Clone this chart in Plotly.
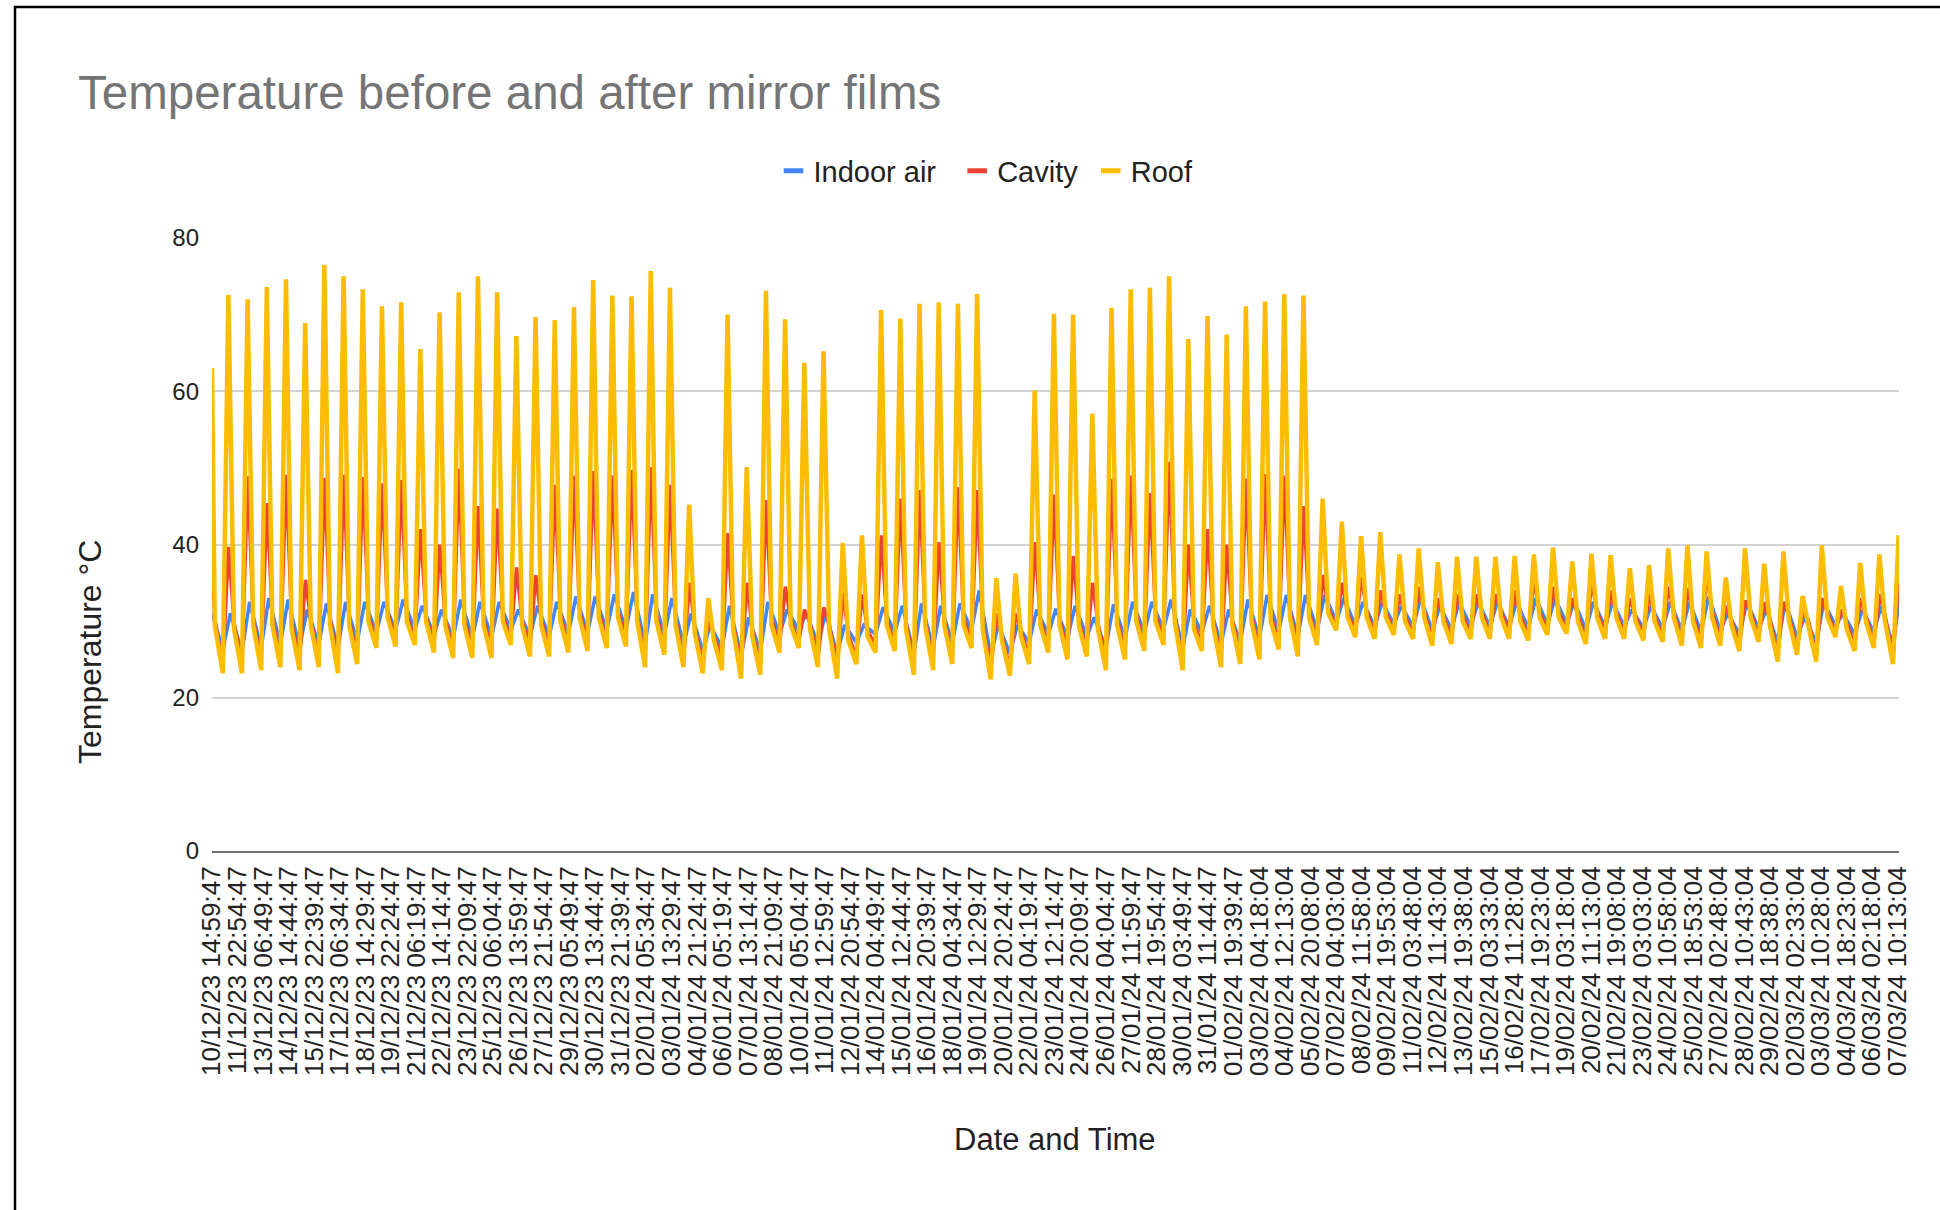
import pandas as pd
import plotly.graph_objects as go

# ---------------------------------------------------------------------------
# Data
# ---------------------------------------------------------------------------
series_names = ["Indoor air", "Cavity", "Roof"]
series_colors = ["#4285F4", "#EA4335", "#FBBC04"]

# logger timestamps shown on the category axis
tick_labels = [
    "10/12/23 14:59:47", "11/12/23 22:54:47", "13/12/23 06:49:47", "14/12/23 14:44:47",
    "15/12/23 22:39:47", "17/12/23 06:34:47", "18/12/23 14:29:47", "19/12/23 22:24:47",
    "21/12/23 06:19:47", "22/12/23 14:14:47", "23/12/23 22:09:47", "25/12/23 06:04:47",
    "26/12/23 13:59:47", "27/12/23 21:54:47", "29/12/23 05:49:47", "30/12/23 13:44:47",
    "31/12/23 21:39:47", "02/01/24 05:34:47", "03/01/24 13:29:47", "04/01/24 21:24:47",
    "06/01/24 05:19:47", "07/01/24 13:14:47", "08/01/24 21:09:47", "10/01/24 05:04:47",
    "11/01/24 12:59:47", "12/01/24 20:54:47", "14/01/24 04:49:47", "15/01/24 12:44:47",
    "16/01/24 20:39:47", "18/01/24 04:34:47", "19/01/24 12:29:47", "20/01/24 20:24:47",
    "22/01/24 04:19:47", "23/01/24 12:14:47", "24/01/24 20:09:47", "26/01/24 04:04:47",
    "27/01/24 11:59:47", "28/01/24 19:54:47", "30/01/24 03:49:47", "31/01/24 11:44:47",
    "01/02/24 19:39:47", "03/02/24 04:18:04", "04/02/24 12:13:04", "05/02/24 20:08:04",
    "07/02/24 04:03:04", "08/02/24 11:58:04", "09/02/24 19:53:04", "11/02/24 03:48:04",
    "12/02/24 11:43:04", "13/02/24 19:38:04", "15/02/24 03:33:04", "16/02/24 11:28:04",
    "17/02/24 19:23:04", "19/02/24 03:18:04", "20/02/24 11:13:04", "21/02/24 19:08:04",
    "23/02/24 03:03:04", "24/02/24 10:58:04", "25/02/24 18:53:04", "27/02/24 02:48:04",
    "28/02/24 10:43:04", "29/02/24 18:38:04", "02/03/24 02:33:04", "03/03/24 10:28:04",
    "04/03/24 18:23:04", "06/03/24 02:18:04", "07/03/24 10:13:04",
]

first_stamp = "10/12/23 14:59:47"
last_stamp = "07/03/24 12:00:00"
first_indoor, first_cavity, first_roof = 31.0, 38.0, 63.0

# daily readings, one per day from 11/12/23 to 07/03/24
roof_peak = [
    72.6, 72.0, 73.6, 74.6, 68.9, 76.5, 75.0, 73.3, 71.1, 71.6,
    65.5, 70.3, 72.9, 75.0, 72.9, 67.2, 69.7, 69.3, 71.0, 74.5,
    72.5, 72.4, 75.7, 73.5, 45.2, 33.0, 70.0, 50.1, 73.1, 69.4,
    63.7, 65.2, 40.2, 41.2, 70.6, 69.5, 71.4, 71.6, 71.4, 72.7,
    35.6, 36.2, 60.1, 70.1, 70.0, 57.1, 70.9, 73.3, 73.5, 75.0,
    66.8, 69.8, 67.4, 71.1, 71.7, 72.7, 72.5, 46.0, 43.0, 41.1,
    41.6, 38.7, 39.5, 37.7, 38.4, 38.4, 38.4, 38.5, 38.7, 39.6,
    37.8, 38.8, 38.6, 36.9, 37.3, 39.5, 39.9, 39.1, 35.7, 39.5,
    37.5, 39.1, 33.3, 39.9, 34.6, 37.6, 38.7, 41.2,
]
cavity_peak = [
    39.7, 48.9, 45.4, 49.1, 35.4, 48.7, 49.1, 48.8, 48.0, 48.4,
    42.0, 40.0, 49.9, 45.0, 44.7, 37.0, 36.0, 47.8, 49.0, 49.6,
    49.0, 49.7, 50.1, 47.8, 35.0, 30.5, 41.5, 35.0, 45.8, 34.5,
    31.5, 31.8, 33.7, 33.5, 41.2, 46.0, 47.1, 40.3, 47.5, 47.1,
    31.0, 31.0, 40.3, 46.5, 38.5, 35.0, 48.6, 49.0, 46.7, 50.8,
    40.0, 42.0, 40.0, 48.6, 49.2, 49.0, 45.0, 36.0, 35.0, 35.8,
    34.0, 33.5, 34.5, 33.0, 33.5, 33.5, 33.5, 34.0, 35.4, 34.5,
    33.0, 35.0, 34.0, 33.0, 33.5, 34.5, 34.3, 36.2, 32.0, 32.7,
    32.5, 32.5, 31.0, 33.0, 31.5, 33.0, 33.5, 35.4,
]
indoor_peak = [
    31.0, 32.5, 33.0, 32.8, 31.5, 32.3, 32.5, 32.5, 32.5, 32.8,
    32.0, 31.5, 32.8, 32.5, 32.5, 31.5, 32.0, 32.5, 33.2, 33.2,
    33.5, 33.8, 33.5, 33.0, 31.0, 29.5, 32.0, 30.5, 32.5, 31.5,
    31.0, 31.0, 29.5, 29.5, 31.8, 32.0, 32.3, 32.0, 32.3, 34.0,
    29.5, 29.5, 31.5, 31.6, 32.0, 30.5, 32.2, 32.5, 32.5, 32.8,
    31.5, 32.0, 31.5, 32.8, 33.4, 33.4, 33.4, 33.4, 33.0, 32.5,
    32.5, 32.0, 33.0, 32.0, 32.5, 32.5, 32.5, 32.5, 33.0, 33.0,
    32.5, 32.5, 32.5, 31.5, 32.0, 32.5, 32.5, 33.2, 31.0, 32.5,
    31.5, 32.5, 30.5, 32.5, 31.0, 31.5, 32.0, 34.0,
]
roof_dawn = [
    23.2, 23.2, 23.6, 24.0, 23.6, 24.0, 23.2, 24.4, 26.5, 26.7,
    26.9, 25.9, 25.2, 25.2, 25.2, 26.9, 25.4, 25.4, 25.9, 26.1,
    26.5, 26.7, 24.0, 25.6, 24.0, 23.2, 23.6, 22.5, 23.0, 25.9,
    26.5, 24.0, 22.5, 24.4, 25.9, 26.1, 23.0, 23.6, 24.4, 26.5,
    22.4, 22.9, 24.4, 25.9, 25.0, 25.4, 23.6, 25.0, 26.1, 26.9,
    23.6, 26.1, 24.0, 24.4, 25.0, 26.3, 25.4, 26.9, 28.8, 27.9,
    27.7, 28.2, 27.7, 26.8, 27.0, 27.7, 27.7, 27.7, 27.5, 28.2,
    28.4, 27.0, 27.7, 27.7, 27.5, 27.3, 26.8, 26.5, 26.8, 26.1,
    27.3, 24.7, 25.6, 24.7, 27.9, 26.1, 26.5, 24.4,
]
cavity_dawn = [
    24.3, 24.5, 24.8, 25.2, 24.8, 25.0, 24.4, 25.5, 27.3, 27.5,
    27.6, 26.8, 26.2, 26.2, 26.2, 27.6, 26.4, 26.5, 26.9, 27.0,
    27.3, 27.5, 25.1, 26.6, 25.0, 24.4, 24.8, 23.8, 24.2, 26.8,
    27.3, 25.1, 23.8, 25.4, 26.8, 27.0, 24.2, 24.8, 25.4, 27.3,
    23.6, 24.0, 25.4, 26.8, 26.0, 26.4, 24.8, 26.0, 27.0, 27.6,
    24.8, 27.0, 25.1, 25.4, 26.0, 27.1, 26.4, 27.6, 29.3, 28.5,
    28.3, 28.7, 28.3, 27.5, 27.7, 28.3, 28.3, 28.3, 28.1, 28.7,
    28.9, 27.7, 28.3, 28.3, 28.1, 27.9, 27.5, 27.2, 27.5, 26.9,
    27.9, 25.6, 26.4, 25.6, 28.5, 26.9, 27.2, 25.3,
]
indoor_dawn = [
    26.3, 26.0, 26.5, 27.0, 26.6, 27.0, 26.5, 27.3, 28.5, 28.8,
    28.9, 28.2, 27.8, 27.8, 27.9, 28.8, 28.0, 28.0, 28.4, 28.5,
    28.8, 28.9, 27.0, 28.2, 27.0, 26.2, 26.5, 25.5, 26.0, 28.3,
    28.8, 27.0, 25.8, 27.2, 28.3, 28.5, 25.8, 26.5, 27.2, 28.8,
    25.5, 25.8, 27.2, 28.3, 27.8, 28.0, 26.5, 27.8, 28.5, 28.9,
    26.5, 28.5, 27.0, 27.2, 27.8, 28.6, 28.0, 28.9, 30.0, 29.4,
    29.3, 29.6, 29.3, 28.8, 28.9, 29.3, 29.3, 29.3, 29.1, 29.6,
    29.7, 28.9, 29.3, 29.3, 29.1, 29.0, 28.8, 28.6, 28.8, 28.3,
    29.0, 27.2, 27.9, 27.2, 29.4, 28.3, 28.6, 26.8,
]
# evening readings, one per day from 10/12/23 to 06/03/24
roof_dusk = [
    29.5, 29.0, 29.5, 29.5, 29.0, 29.5, 29.5, 29.5, 30.0, 30.5,
    30.0, 30.0, 29.5, 29.5, 29.5, 30.0, 29.5, 29.5, 30.0, 30.5,
    30.5, 30.5, 30.0, 30.0, 29.5, 28.5, 27.5, 29.0, 28.0, 29.5,
    29.5, 29.0, 29.0, 27.5, 28.0, 29.5, 29.0, 29.5, 29.5, 29.5,
    29.0, 27.5, 28.0, 29.5, 29.5, 29.5, 29.0, 29.5, 30.0, 30.0,
    30.0, 29.0, 29.5, 29.5, 30.0, 30.0, 30.5, 30.5, 31.0, 30.5,
    30.5, 30.5, 30.0, 30.5, 30.0, 30.0, 30.5, 30.5, 30.0, 30.5,
    30.5, 30.0, 30.5, 30.5, 30.0, 30.0, 30.5, 30.0, 30.5, 29.5,
    30.5, 29.5, 30.0, 29.5, 30.5, 29.0, 30.0, 30.0,
]
cavity_dusk = [
    30.3, 29.8, 30.4, 30.3, 29.9, 30.2, 30.4, 30.3, 30.8, 31.3,
    30.8, 30.7, 30.3, 30.4, 30.3, 30.8, 30.2, 30.3, 30.8, 31.3,
    31.4, 31.3, 30.9, 30.8, 30.3, 29.2, 28.3, 29.8, 28.8, 30.3,
    30.2, 29.8, 29.8, 28.2, 28.8, 30.3, 29.9, 30.3, 30.2, 30.4,
    29.9, 28.3, 28.8, 30.2, 30.3, 30.2, 29.8, 30.3, 30.8, 30.9,
    30.8, 29.8, 30.3, 30.2, 30.8, 30.9, 31.3, 31.2, 31.7, 31.2,
    31.3, 31.2, 30.7, 31.3, 30.7, 30.8, 31.2, 31.3, 30.8, 31.3,
    31.2, 30.8, 31.3, 31.2, 30.7, 30.8, 31.2, 30.8, 31.3, 30.2,
    31.2, 30.3, 30.7, 30.2, 31.2, 29.8, 30.7, 30.8,
]

# ---------------------------------------------------------------------------
# Time series assembly
# ---------------------------------------------------------------------------
STAMP_FMT = "%d/%m/%y %H:%M:%S"
t_first = pd.to_datetime(first_stamp, format=STAMP_FMT)
t_last = pd.to_datetime(last_stamp, format=STAMP_FMT)
days = pd.date_range("2023-12-11", periods=len(roof_peak), freq="D")

DAWN = pd.Timedelta(hours=4, minutes=30)
DUSK = pd.Timedelta(hours=18, minutes=30)
PEAK_TIME = {
    "Indoor air": pd.Timedelta(hours=14),
    "Cavity": pd.Timedelta(hours=11, minutes=45),
    "Roof": pd.Timedelta(hours=11, minutes=30),
}
LINE_WIDTH = {"Indoor air": 3.5, "Cavity": 3.5, "Roof": 4.5}


def daily_series(first, dawn, peak, dusk, peak_at):
    xs, ys = [t_first], [first]
    if dusk is not None:
        xs.append(t_first.normalize() + DUSK)
        ys.append(dusk[0])
    for i, day in enumerate(days):
        xs.append(day + DAWN)
        ys.append(dawn[i])
        xs.append(day + peak_at)
        ys.append(peak[i])
        if dusk is not None and i + 1 < len(dusk):
            xs.append(day + DUSK)
            ys.append(dusk[i + 1])
    return xs, ys


series = {
    "Indoor air": daily_series(first_indoor, indoor_dawn, indoor_peak, None,
                               PEAK_TIME["Indoor air"]),
    "Cavity": daily_series(first_cavity, cavity_dawn, cavity_peak, cavity_dusk,
                           PEAK_TIME["Cavity"]),
    "Roof": daily_series(first_roof, roof_dawn, roof_peak, roof_dusk,
                         PEAK_TIME["Roof"]),
}

tick_vals = [pd.to_datetime(s, format=STAMP_FMT) for s in tick_labels]

# ---------------------------------------------------------------------------
# Figure
# ---------------------------------------------------------------------------
FONT = "Liberation Sans, Arial, Helvetica, sans-serif"
W, H = 1940, 1210
PL, PR, PT, PB = 212, 1899, 238, 851  # plot area in pixels
pw, ph = PR - PL, PB - PT


def px_x(x):
    return (x - PL) / pw


def px_y(y):
    return (PB - y) / ph


fig = go.Figure()

for name, color in zip(series_names, series_colors):
    xs, ys = series[name]
    fig.add_trace(go.Scatter(
        x=xs, y=ys, mode="lines", name=name, showlegend=False,
        line=dict(color=color, width=LINE_WIDTH[name]), hoverinfo="skip",
    ))

# short dash legend keys (trailing no-break spaces widen the item gaps)
legend_pad = {"Indoor air": "\u00a0\u00a0", "Cavity": "\u00a0", "Roof": ""}
for name, color in zip(series_names, series_colors):
    fig.add_trace(go.Scatter(
        x=[None], y=[None], mode="markers", name=name + legend_pad[name],
        showlegend=True,
        marker=dict(symbol="line-ew", size=14, color=color,
                    line=dict(width=5, color=color)),
    ))

fig.update_layout(
    width=W, height=H,
    margin=dict(l=PL, r=W - PR, t=PT, b=H - PB, pad=0),
    paper_bgcolor="white", plot_bgcolor="white",
    font=dict(family=FONT, color="#222222"),
    title=dict(
        text="Temperature before and after mirror films",
        xref="container", yref="container",
        x=78 / W, xanchor="left", y=1 - 92 / H, yanchor="middle",
        font=dict(family=FONT, size=47.5, color="#757575"),
    ),
    legend=dict(
        orientation="h", x=px_x(986), xanchor="center",
        y=px_y(171), yanchor="middle",
        font=dict(family=FONT, size=29, color="#222222"),
        bgcolor="rgba(0,0,0,0)", itemclick=False,
    ),
    xaxis=dict(
        type="date", range=[t_first, t_last],
        tickmode="array", tickvals=tick_vals, ticktext=tick_labels,
        tickangle=-90, tickfont=dict(family=FONT, size=26, color="#222222"),
        ticks="", showgrid=False, zeroline=False,
        showline=True, linecolor="#6f6f6f", linewidth=2,
        ticklabelstandoff=3,
    ),
    yaxis=dict(
        range=[0, 80], tickmode="array", tickvals=[0, 20, 40, 60, 80],
        tickfont=dict(family=FONT, size=24, color="#222222"),
        ticks="", showgrid=True, gridcolor="#d3d3d3", gridwidth=2,
        zeroline=False, showline=False, ticklabelstandoff=12,
    ),
    annotations=[
        dict(text="Temperature °C", xref="paper", yref="paper",
             x=px_x(90), y=px_y(652), textangle=-90, showarrow=False,
             xanchor="center", yanchor="middle",
             font=dict(family=FONT, size=32, color="#222222")),
        dict(text="Date and Time", xref="paper", yref="paper",
             x=px_x(1055), y=px_y(1139), showarrow=False,
             xanchor="center", yanchor="middle",
             font=dict(family=FONT, size=31, color="#222222")),
    ],
    shapes=[
        dict(type="rect", xref="paper", yref="paper",
             x0=px_x(15), x1=px_x(1990), y0=px_y(1260), y1=px_y(7),
             line=dict(color="black", width=2.5), fillcolor="rgba(0,0,0,0)",
             layer="above"),
    ],
)

fig.write_html("out.html")
